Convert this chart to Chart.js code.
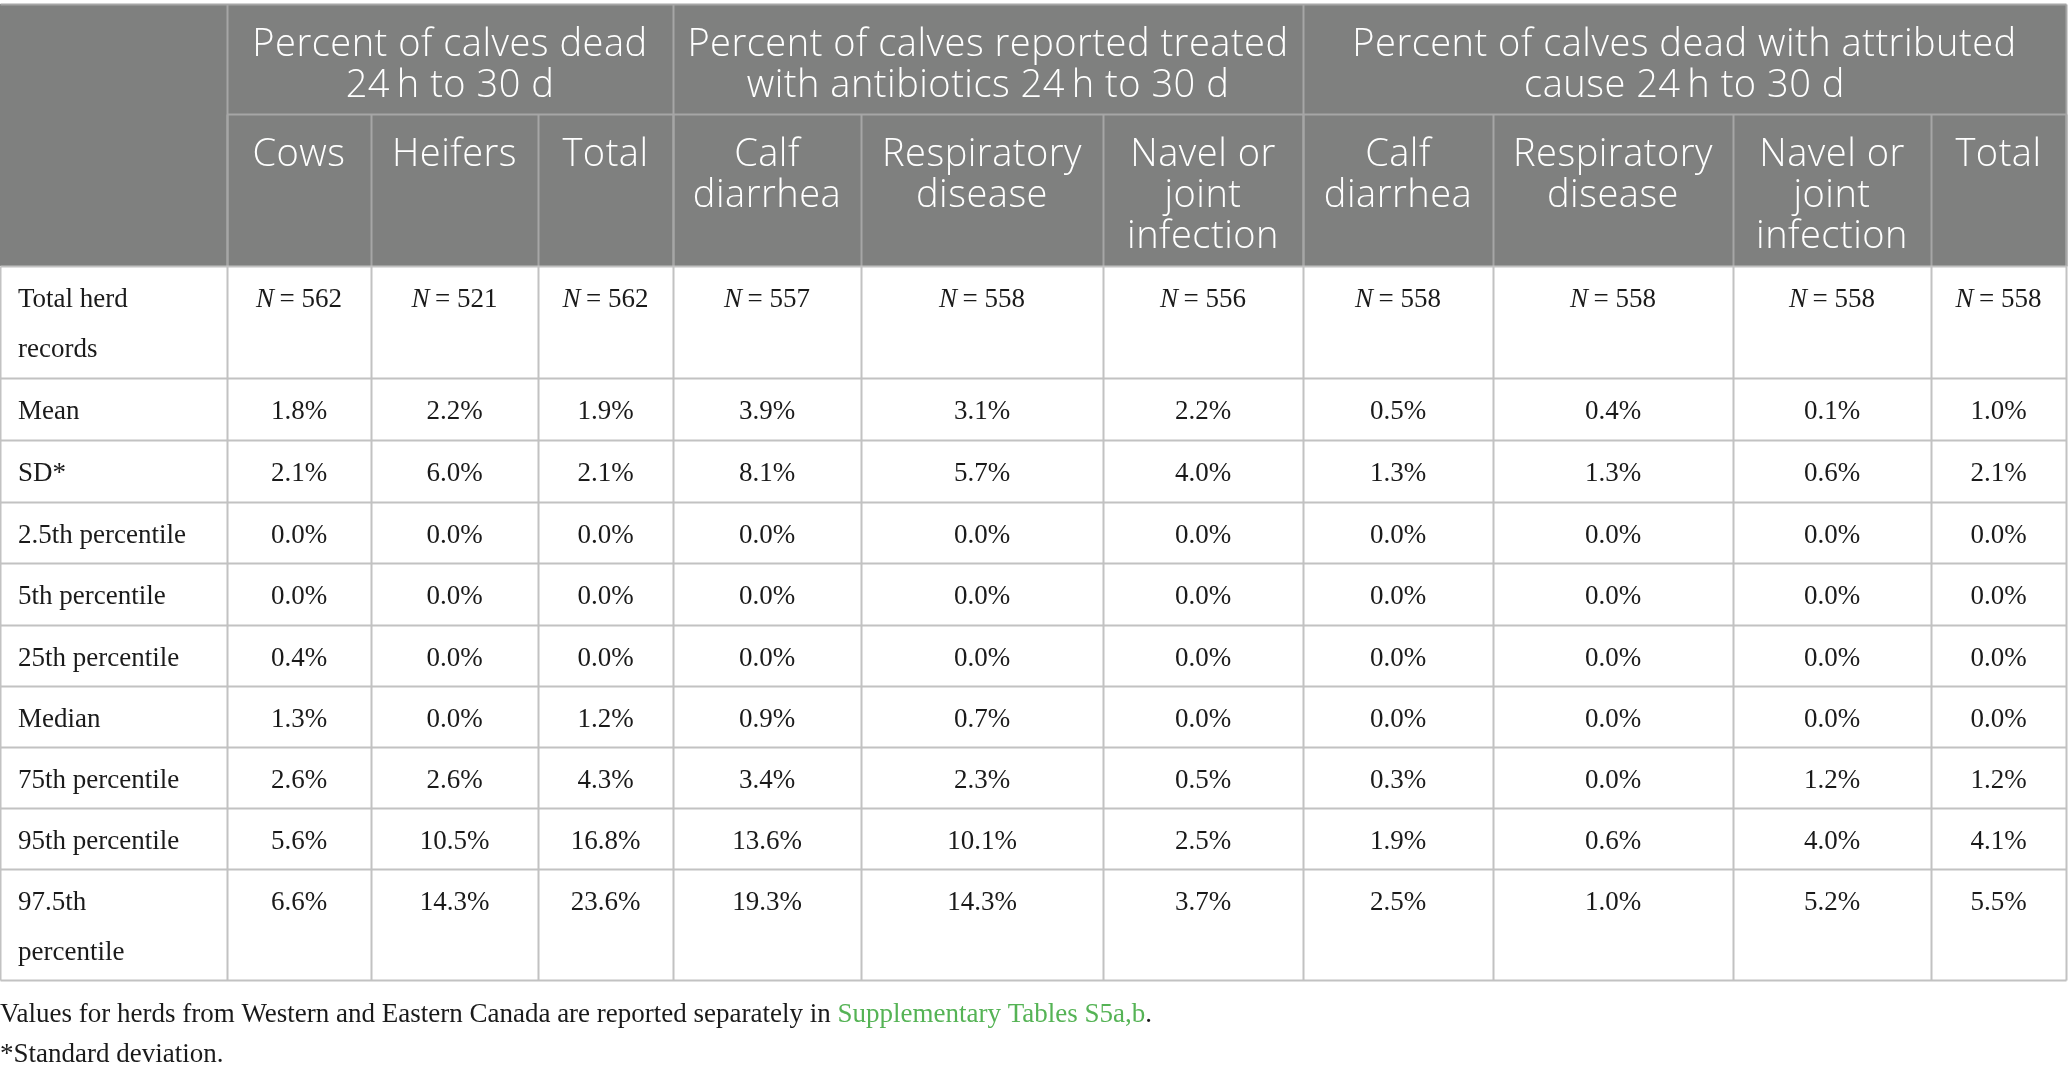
<!DOCTYPE html>
<html>
<head>
<meta charset="utf-8">
<script src="https://cdn.jsdelivr.net/npm/chart.js@4.4.1/dist/chart.umd.min.js"></script>
<style>
  html, body { margin: 0; padding: 0; background: #ffffff; }
  canvas { display: block; }
</style>
</head>
<body>
<canvas id="myChart" width="2068" height="1072"></canvas>
<script>
// Table content

let groupHeaders = [
  ["Percent of calves dead", "24\u2009h to 30 d"],
  ["Percent of calves reported treated", "with antibiotics 24\u2009h to 30 d"],
  ["Percent of calves dead with attributed", "cause 24\u2009h to 30 d"],
];
let groupSpans = [3, 3, 4];

let subHeaders = [
  ["Cows"], ["Heifers"], ["Total"],
  ["Calf", "diarrhea"], ["Respiratory", "disease"], ["Navel or", "joint", "infection"],
  ["Calf", "diarrhea"], ["Respiratory", "disease"], ["Navel or", "joint", "infection"], ["Total"],
];

let rowLabels = [
  ["Total herd", "records"], ["Mean"], ["SD*"], ["2.5th percentile"], ["5th percentile"],
  ["25th percentile"], ["Median"], ["75th percentile"], ["95th percentile"], ["97.5th", "percentile"],
];

let herdCounts = [562, 521, 562, 557, 558, 556, 558, 558, 558, 558];
let meanValues = [1.8, 2.2, 1.9, 3.9, 3.1, 2.2, 0.5, 0.4, 0.1, 1.0];
let sdValues = [2.1, 6.0, 2.1, 8.1, 5.7, 4.0, 1.3, 1.3, 0.6, 2.1];
let p2_5Values = [0.0, 0.0, 0.0, 0.0, 0.0, 0.0, 0.0, 0.0, 0.0, 0.0];
let p5Values = [0.0, 0.0, 0.0, 0.0, 0.0, 0.0, 0.0, 0.0, 0.0, 0.0];
let p25Values = [0.4, 0.0, 0.0, 0.0, 0.0, 0.0, 0.0, 0.0, 0.0, 0.0];
let medianValues = [1.3, 0.0, 1.2, 0.9, 0.7, 0.0, 0.0, 0.0, 0.0, 0.0];
let p75Values = [2.6, 2.6, 4.3, 3.4, 2.3, 0.5, 0.3, 0.0, 1.2, 1.2];
let p95Values = [5.6, 10.5, 16.8, 13.6, 10.1, 2.5, 1.9, 0.6, 4.0, 4.1];
let p97_5Values = [6.6, 14.3, 23.6, 19.3, 14.3, 3.7, 2.5, 1.0, 5.2, 5.5];

let footnote1 = "Values for herds from Western and Eastern Canada are reported separately in ";
let footnoteLink = "Supplementary Tables S5a,b";
let footnote2 = "*Standard deviation.";

// Layout of the grid (in scale units, the scales span the whole canvas)

let colEdges = [0, 227, 371, 538, 673, 861, 1103, 1303, 1493, 1733, 1931, 2066];
let rowEdges = [4, 114, 266, 378, 440, 502, 563, 625, 686, 747, 808, 869, 980];

let headerFill = "#7f807f";
let headerLine = "#a6a6a6";
let bodyLine = "#c2c2c2";
let headFont = "300 38px 'Open Sans'";
let bodyFont = "27px 'Liberation Serif'";

// Plugin that paints the table cells using the chart scales

const tablePlugin = {
  id: "tablePlugin",
  afterDraw(chart) {
    const ctx = chart.ctx;
    const xs = chart.scales.x;
    const ys = chart.scales.y;
    const X = (v) => xs.getPixelForValue(v);
    const Y = (v) => ys.getPixelForValue(v);
    const bodyRows = [herdCounts, meanValues, sdValues, p2_5Values, p5Values,
      p25Values, medianValues, p75Values, p95Values, p97_5Values];

    ctx.save();

    // header background
    ctx.fillStyle = headerFill;
    ctx.fillRect(X(colEdges[0]), Y(rowEdges[0]), X(colEdges[11]) - X(colEdges[0]), Y(rowEdges[2]) - Y(rowEdges[0]));

    // grid lines
    function line(x1, y1, x2, y2, color) {
      ctx.strokeStyle = color;
      ctx.lineWidth = 2;
      ctx.beginPath();
      ctx.moveTo(Math.round(X(x1)) + 0.5, Math.round(Y(y1)) + 0.5);
      ctx.lineTo(Math.round(X(x2)) + 0.5, Math.round(Y(y2)) + 0.5);
      ctx.stroke();
    }

    // header lines
    line(colEdges[0], rowEdges[0], colEdges[11], rowEdges[0], headerLine);
    line(colEdges[1], rowEdges[1], colEdges[11], rowEdges[1], headerLine);
    let c = 1;
    groupSpans.forEach((span) => {
      line(colEdges[c], rowEdges[0], colEdges[c], rowEdges[2], headerLine);
      c += span;
    });
    line(colEdges[11], rowEdges[0], colEdges[11], rowEdges[2], headerLine);
    for (let i = 1; i <= 11; i++) {
      line(colEdges[i], rowEdges[1], colEdges[i], rowEdges[2], headerLine);
    }

    // body lines
    for (let r = 2; r < rowEdges.length; r++) {
      line(colEdges[0], rowEdges[r], colEdges[11], rowEdges[r], bodyLine);
    }
    for (let i = 0; i <= 11; i++) {
      line(colEdges[i], rowEdges[2], colEdges[i], rowEdges[12], bodyLine);
    }

    // header text
    ctx.fillStyle = "#ffffff";
    ctx.font = headFont;
    ctx.letterSpacing = "0.5px";
    ctx.textAlign = "center";
    ctx.textBaseline = "alphabetic";
    c = 1;
    groupHeaders.forEach((lines, g) => {
      const cx = (X(colEdges[c]) + X(colEdges[c + groupSpans[g]])) / 2;
      lines.forEach((t, k) => ctx.fillText(t, cx, Y(rowEdges[0]) + 52 + k * 41));
      c += groupSpans[g];
    });
    subHeaders.forEach((lines, i) => {
      const cx = (X(colEdges[i + 1]) + X(colEdges[i + 2])) / 2;
      lines.forEach((t, k) => ctx.fillText(t, cx, Y(rowEdges[1]) + 52 + k * 41));
    });
    ctx.letterSpacing = "0px";

    // body text
    ctx.fillStyle = "#1a1a1a";
    ctx.font = bodyFont;
    rowLabels.forEach((lines, r) => {
      ctx.textAlign = "left";
      lines.forEach((t, k) => ctx.fillText(t, X(colEdges[0]) + 18, Y(rowEdges[r + 2]) + 41 + k * 50));
    });

    bodyRows.forEach((values, r) => {
      const by = Y(rowEdges[r + 2]) + 41;
      values.forEach((v, i) => {
        const cx = (X(colEdges[i + 1]) + X(colEdges[i + 2])) / 2;
        if (r === 0) {
          // italic N followed by the count
          ctx.font = "italic " + bodyFont;
          const wN = ctx.measureText("N").width;
          ctx.font = bodyFont;
          const rest = "\u2009= " + v;
          const wR = ctx.measureText(rest).width;
          const x0 = cx - (wN + wR) / 2;
          ctx.textAlign = "left";
          ctx.font = "italic " + bodyFont;
          ctx.fillText("N", x0, by);
          ctx.font = bodyFont;
          ctx.fillText(rest, x0 + wN, by);
        } else {
          ctx.textAlign = "center";
          ctx.fillText(v.toFixed(1) + "%", cx, by);
        }
      });
    });

    // footnotes
    ctx.textAlign = "left";
    ctx.font = bodyFont;
    ctx.fillStyle = "#1a1a1a";
    ctx.fillText(footnote1, X(0), Y(1022));
    const w1 = ctx.measureText(footnote1).width;
    ctx.fillStyle = "#55b355";
    ctx.fillText(footnoteLink, X(0) + w1, Y(1022));
    const w2 = ctx.measureText(footnoteLink).width;
    ctx.fillStyle = "#1a1a1a";
    ctx.fillText(".", X(0) + w1 + w2, Y(1022));
    ctx.fillText(footnote2, X(0), Y(1062));

    ctx.restore();
  },
};

new Chart("myChart", {
  type: "scatter",
  data: { datasets: [{ data: [] }] },
  options: {
    responsive: false,
    animation: false,
    devicePixelRatio: 1,
    layout: { padding: 0 },
    plugins: { legend: { display: false }, tooltip: { enabled: false } },
    scales: {
      x: { type: "linear", min: 0, max: 2068, display: false },
      y: { type: "linear", min: 0, max: 1072, reverse: true, display: false },
    },
  },
  plugins: [tablePlugin],
});
</script>
</body>
</html>
